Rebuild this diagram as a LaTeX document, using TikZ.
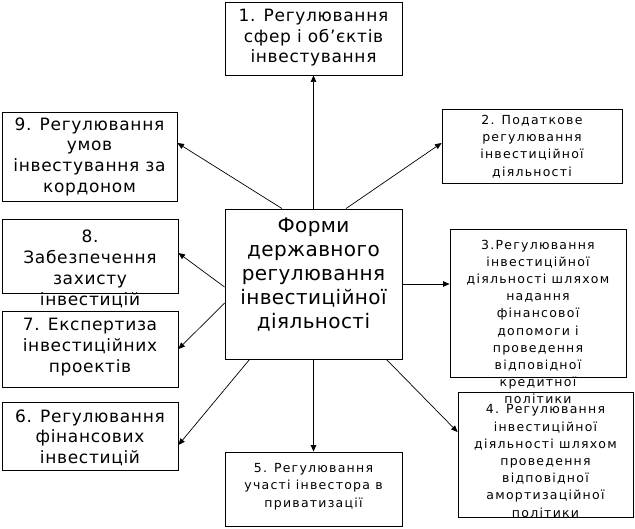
\documentclass[tikz,border=0pt]{standalone}
\usepackage{fontspec}
\setmainfont{DejaVu Sans}
\usetikzlibrary{arrows.meta,calc}
\begin{document}
\begin{tikzpicture}[x=1pt,y=-1pt,
  box/.style={draw, line width=0.9pt, inner sep=0pt, fill=none},
  big/.style={align=center, inner sep=0pt, font=\fontsize{17}{20.8}\selectfont\addfontfeatures{LetterSpace=4}},
  small/.style={align=center, inner sep=0pt, font=\fontsize{12.5}{17.2}\selectfont\addfontfeatures{LetterSpace=10}},
  huge/.style={align=center, inner sep=0pt, font=\fontsize{20}{24}\selectfont\addfontfeatures{LetterSpace=2}},
  arr/.style={line width=0.7pt, -{Triangle[length=6.5pt,width=5.5pt]}}]
\useasboundingbox (0,0) rectangle (635,528);
% boxes
\node[box, minimum width=177pt, minimum height=150pt] (c) at (313.5,284) {};
\node[box, minimum width=177pt, minimum height=73pt] (b1) at (313.5,38.5) {};
\node[box, minimum width=180pt, minimum height=74pt] (b2) at (532,146) {};
\node[box, minimum width=176pt, minimum height=148pt] (b3) at (538,303) {};
\node[box, minimum width=175pt, minimum height=125pt] (b4) at (545.5,454.5) {};
\node[box, minimum width=177pt, minimum height=74pt] (b5) at (313.5,489) {};
\node[box, minimum width=176pt, minimum height=68pt] (b6) at (90,436) {};
\node[box, minimum width=176pt, minimum height=76pt] (b7) at (90,349) {};
\node[box, minimum width=176pt, minimum height=74pt] (b8) at (90,256) {};
\node[box, minimum width=175pt, minimum height=89pt] (b9) at (89.5,156.5) {};
% texts
\node[huge] (tc) at (313.5,275) {Форми\\державного\\регулювання\\інвестиційної\\діяльності};
\node[big] (t1) at (313.5,37.7) {1. Регулювання\\сфер і об’єктів\\інвестування};
\node[small] (t2) at (532,146.5) {2. Податкове\\регулювання\\інвестиційної\\діяльності};
\node[small] (t3) at (538,322) {3.Регулювання\\інвестиційної\\діяльності шляхом\\надання\\фінансової\\допомоги і\\проведення\\відповідної\\кредитної\\політики};
\node[small] (t4) at (545.5,461) {4. Регулювання\\інвестиційної\\діяльності шляхом\\проведення\\відповідної\\амортизаційної\\політики};
\node[small] (t5) at (313.5,486.7) {5. Регулювання\\участі інвестора в\\приватизації};
\node[big] (t6) at (90,437.7) {6. Регулювання\\фінансових\\інвестицій};
\node[big] (t7) at (90,347) {7. Експертиза\\інвестиційних\\проектів};
\node[big] (t8) at (90,269) {8.\\Забезпечення\\захисту\\інвестицій};
\node[big] (t9) at (89.5,156.75) {9. Регулювання\\умов\\інвестування за\\кордоном};
% arrows
\draw[arr] (c.north) -- (b1.south);
\draw[arr] ([xshift=32.5pt]c.north) -- ([yshift=3pt]b2.west);
\draw[arr] (c.east) -- (c.east -| b3.west);
\draw[arr] ([xshift=-16pt]c.south east) -- ([yshift=22.5pt]b4.west);
\draw[arr] (c.south) -- (b5.north);
\draw[arr] ([xshift=25pt]c.south west) -- ([yshift=-9pt]b6.east);
\draw[arr] ([yshift=-19pt]c.west) -- (b7.east);
\draw[arr] ([yshift=-3pt]c.west) -- ([yshift=3pt]b8.east);
\draw[arr] ([xshift=-31.5pt]c.north) -- ([yshift=13.5pt]b9.east);
\end{tikzpicture}
\end{document}
